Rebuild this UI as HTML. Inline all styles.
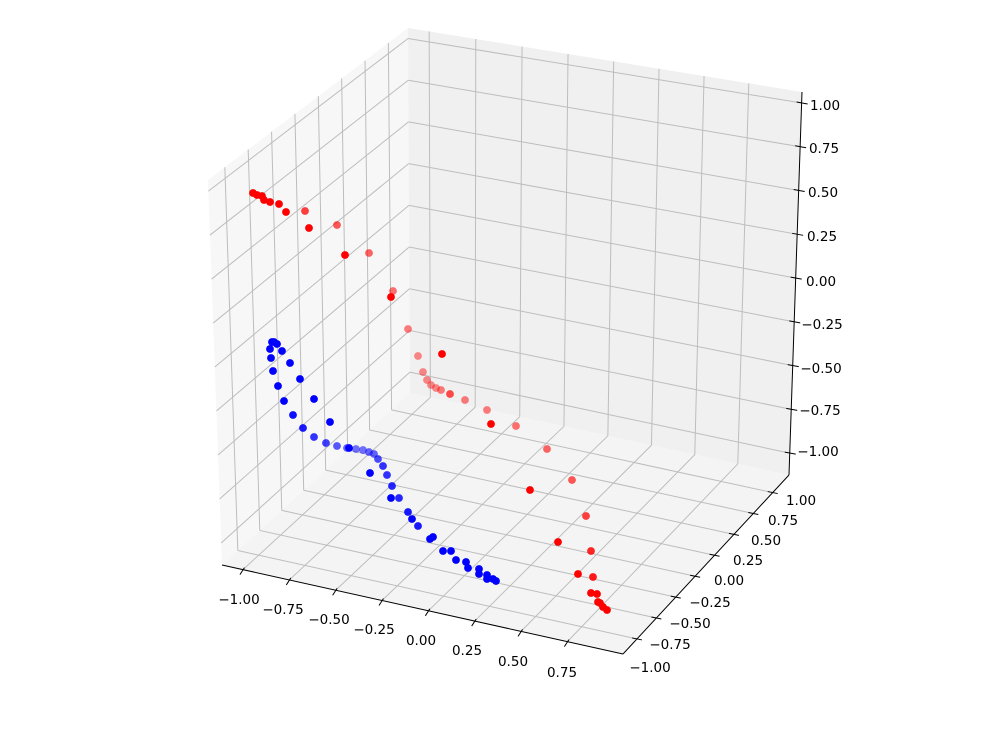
<!DOCTYPE html>
<html><head><meta charset="utf-8"><style>
html,body{margin:0;padding:0;background:#fff;}
svg{display:block;}
text{font-family:"DejaVu Sans","Liberation Sans",sans-serif;font-size:13.5px;fill:#000;}
</style></head><body>
<svg id="s" width="1000" height="736" viewBox="0 0 1000 736" xmlns="http://www.w3.org/2000/svg"></svg>
<script>
const S=document.getElementById('s');
const C={'000':[222,565],'100':[623,654],'010':[410,393],'110':[789,475],'001':[208,180],'101':[630,256],'011':[408,28],'111':[802,92]};
const X=[-1.113,1.05],Y=[-0.93,1.21],Z=[-1.125,1.063];
function P(x,y,z){let u=(x-X[0])/(X[1]-X[0]),v=(y-Y[0])/(Y[1]-Y[0]),w=(z-Z[0])/(Z[1]-Z[0]);
u=u+0.03*u*(1-u)*v;
let r=[0,0];for(const a of[0,1])for(const b of[0,1])for(const c of[0,1]){const k=(a?u:1-u)*(b?v:1-v)*(c?w:1-w);const p=C[''+a+b+c];r[0]+=k*p[0];r[1]+=k*p[1];}return r;}
let h='';
function poly(pts,f){h+=`<polygon points="${pts.map(p=>p.join(',')).join(' ')}" fill="${f}"/>`;}
function line(a,b,c,w){h+=`<line x1="${a[0]}" y1="${a[1]}" x2="${b[0]}" y2="${b[1]}" stroke="${c}" stroke-width="${w}"/>`;}
poly([C['000'],C['010'],C['011'],C['001']],'#f7f7f7');
poly([C['010'],C['110'],C['111'],C['011']],'#f0f0f0');
poly([C['000'],C['100'],C['110'],C['010']],'#f4f4f4');
const g='#bdbdbd',gw=1;
const xt=[-1,-0.75,-0.5,-0.25,0,0.25,0.5,0.75];
const yt=[-0.75,-0.5,-0.25,0,0.25,0.5,0.75,1];
const zt=[-1,-0.75,-0.5,-0.25,0,0.25,0.5,0.75,1];
for(const x of xt){line(P(x,Y[0],Z[0]),P(x,Y[1],Z[0]),g,gw);line(P(x,Y[1],Z[0]),P(x,Y[1],Z[1]),g,gw);}
for(const y of yt){line(P(X[0],y,Z[0]),P(X[1],y,Z[0]),g,gw);line(P(X[0],y,Z[0]),P(X[0],y,Z[1]),g,gw);}
for(const z of zt){line(P(X[0],Y[0],z),P(X[0],Y[1],z),g,gw);line(P(X[0],Y[1],z),P(X[1],Y[1],z),g,gw);}
line(C['000'],C['100'],'#000',1);line(C['100'],C['110'],'#000',1);line(C['110'],C['111'],'#000',1);
for(const x of xt){const p=P(x,Y[0],Z[0]);line([p[0]+1.5,p[1]-2],[p[0]-3,p[1]+5],'#000',1);}
for(const y of yt){const p=P(X[1],y,Z[0]);line([p[0]-5,p[1]-1],[p[0]+5,p[1]+1],'#000',1);}
for(const z of zt){const p=P(X[1],Y[1],z);line([p[0]-5,p[1]-1],[p[0]+6,p[1]+1],'#000',1);}
function T(x,y,s){h+=`<text x="${x}" y="${y+5}" text-anchor="middle">${s}</text>`;}
const xl=[[239,599,'−1.00'],[283,609,'−0.75'],[329,619,'−0.50'],[374,629,'−0.25'],[421,640,'0.00'],[467,650,'0.25'],[513,661,'0.50'],[562,672,'0.75']];
xl.forEach(a=>T(...a));
const yl=[[801,500,'1.00'],[783,520,'0.75'],[766,540,'0.50'],[748,560,'0.25'],[729,580,'0.00'],[710,602,'−0.25'],[690,623,'−0.50'],[670,644,'−0.75'],[650,667,'−1.00']];
yl.forEach(a=>T(...a));
const zl=[[825,105,'1.00'],[824,148,'0.75'],[823,192,'0.50'],[822,236,'0.25'],[821,281,'0.00'],[822,324,'−0.25'],[821,368,'−0.50'],[820,410,'−0.75'],[818,451,'−1.00']];
zl.forEach(a=>T(...a));
function D(x,y,c,a){h+=`<circle cx="${x}" cy="${y}" r="3.9" fill="${c}" fill-opacity="${a}"/>`;}
const red=[[253,193,1],[257,195,1],[262,196,1],[264,200,1],[270,202,1],[279,204,1],[286,212,1],[305,211,.75],[309,228,1],[337,225,.65],[345,255,1],[369,253,.6],[393,291,.55],[391,297,1],
[408,329,.5],[418,356,.45],[442,354,1],[423,372,.45],[427,380,.45],[431,385,.45],[436,388,.45],[441,390,.5],[450,394,.7],[465,400,.5],[487,410,.5],[491,424,1],[516,426,.55],[547,449,.6],[572,480,.65],[530,490,1],[586,516,.75],[558,542,1],[591,551,.85],[578,574,1],[593,577,.9],[591,593,1],[597,594,1],[598,602,1],[600,603,1],[603,607,1],[607,610,1]];
const blue=[[272,342,1],[274,342,1],[277,344,1],[270,349,1],[282,351,1],[271,358,1],[290,363,1],[273,371,1],[300,379,1],[278,386,1],[314,399,1],[284,401,1],[293,415,.95],[330,422,1],[303,428,.9],[314,437,.8],[326,443,.75],[337,446,.65],[347,448,.6],[349,448,1],[356,449,.55],[363,450,.55],[369,452,.6],[374,454,.6],[378,459,.7],[383,466,.8],[370,473,1],[387,475,.8],[392,486,.85],[391,498,1],[399,498,.85],[408,512,.9],[412,519,1],[418,526,.9],[430,539,1],[433,537,1],[443,551,1],[451,551,1],[456,560,1],[466,562,1],[468,568,1],[479,569,1],[479,574,1],[487,575,1],[487,579,1],[493,579,1],[496,581,1]];
red.forEach(p=>D(p[0],p[1],'#ff0000',p[2]));
blue.forEach(p=>D(p[0],p[1],'#0000ff',p[2]));
S.innerHTML=h;
</script>
</body></html>
